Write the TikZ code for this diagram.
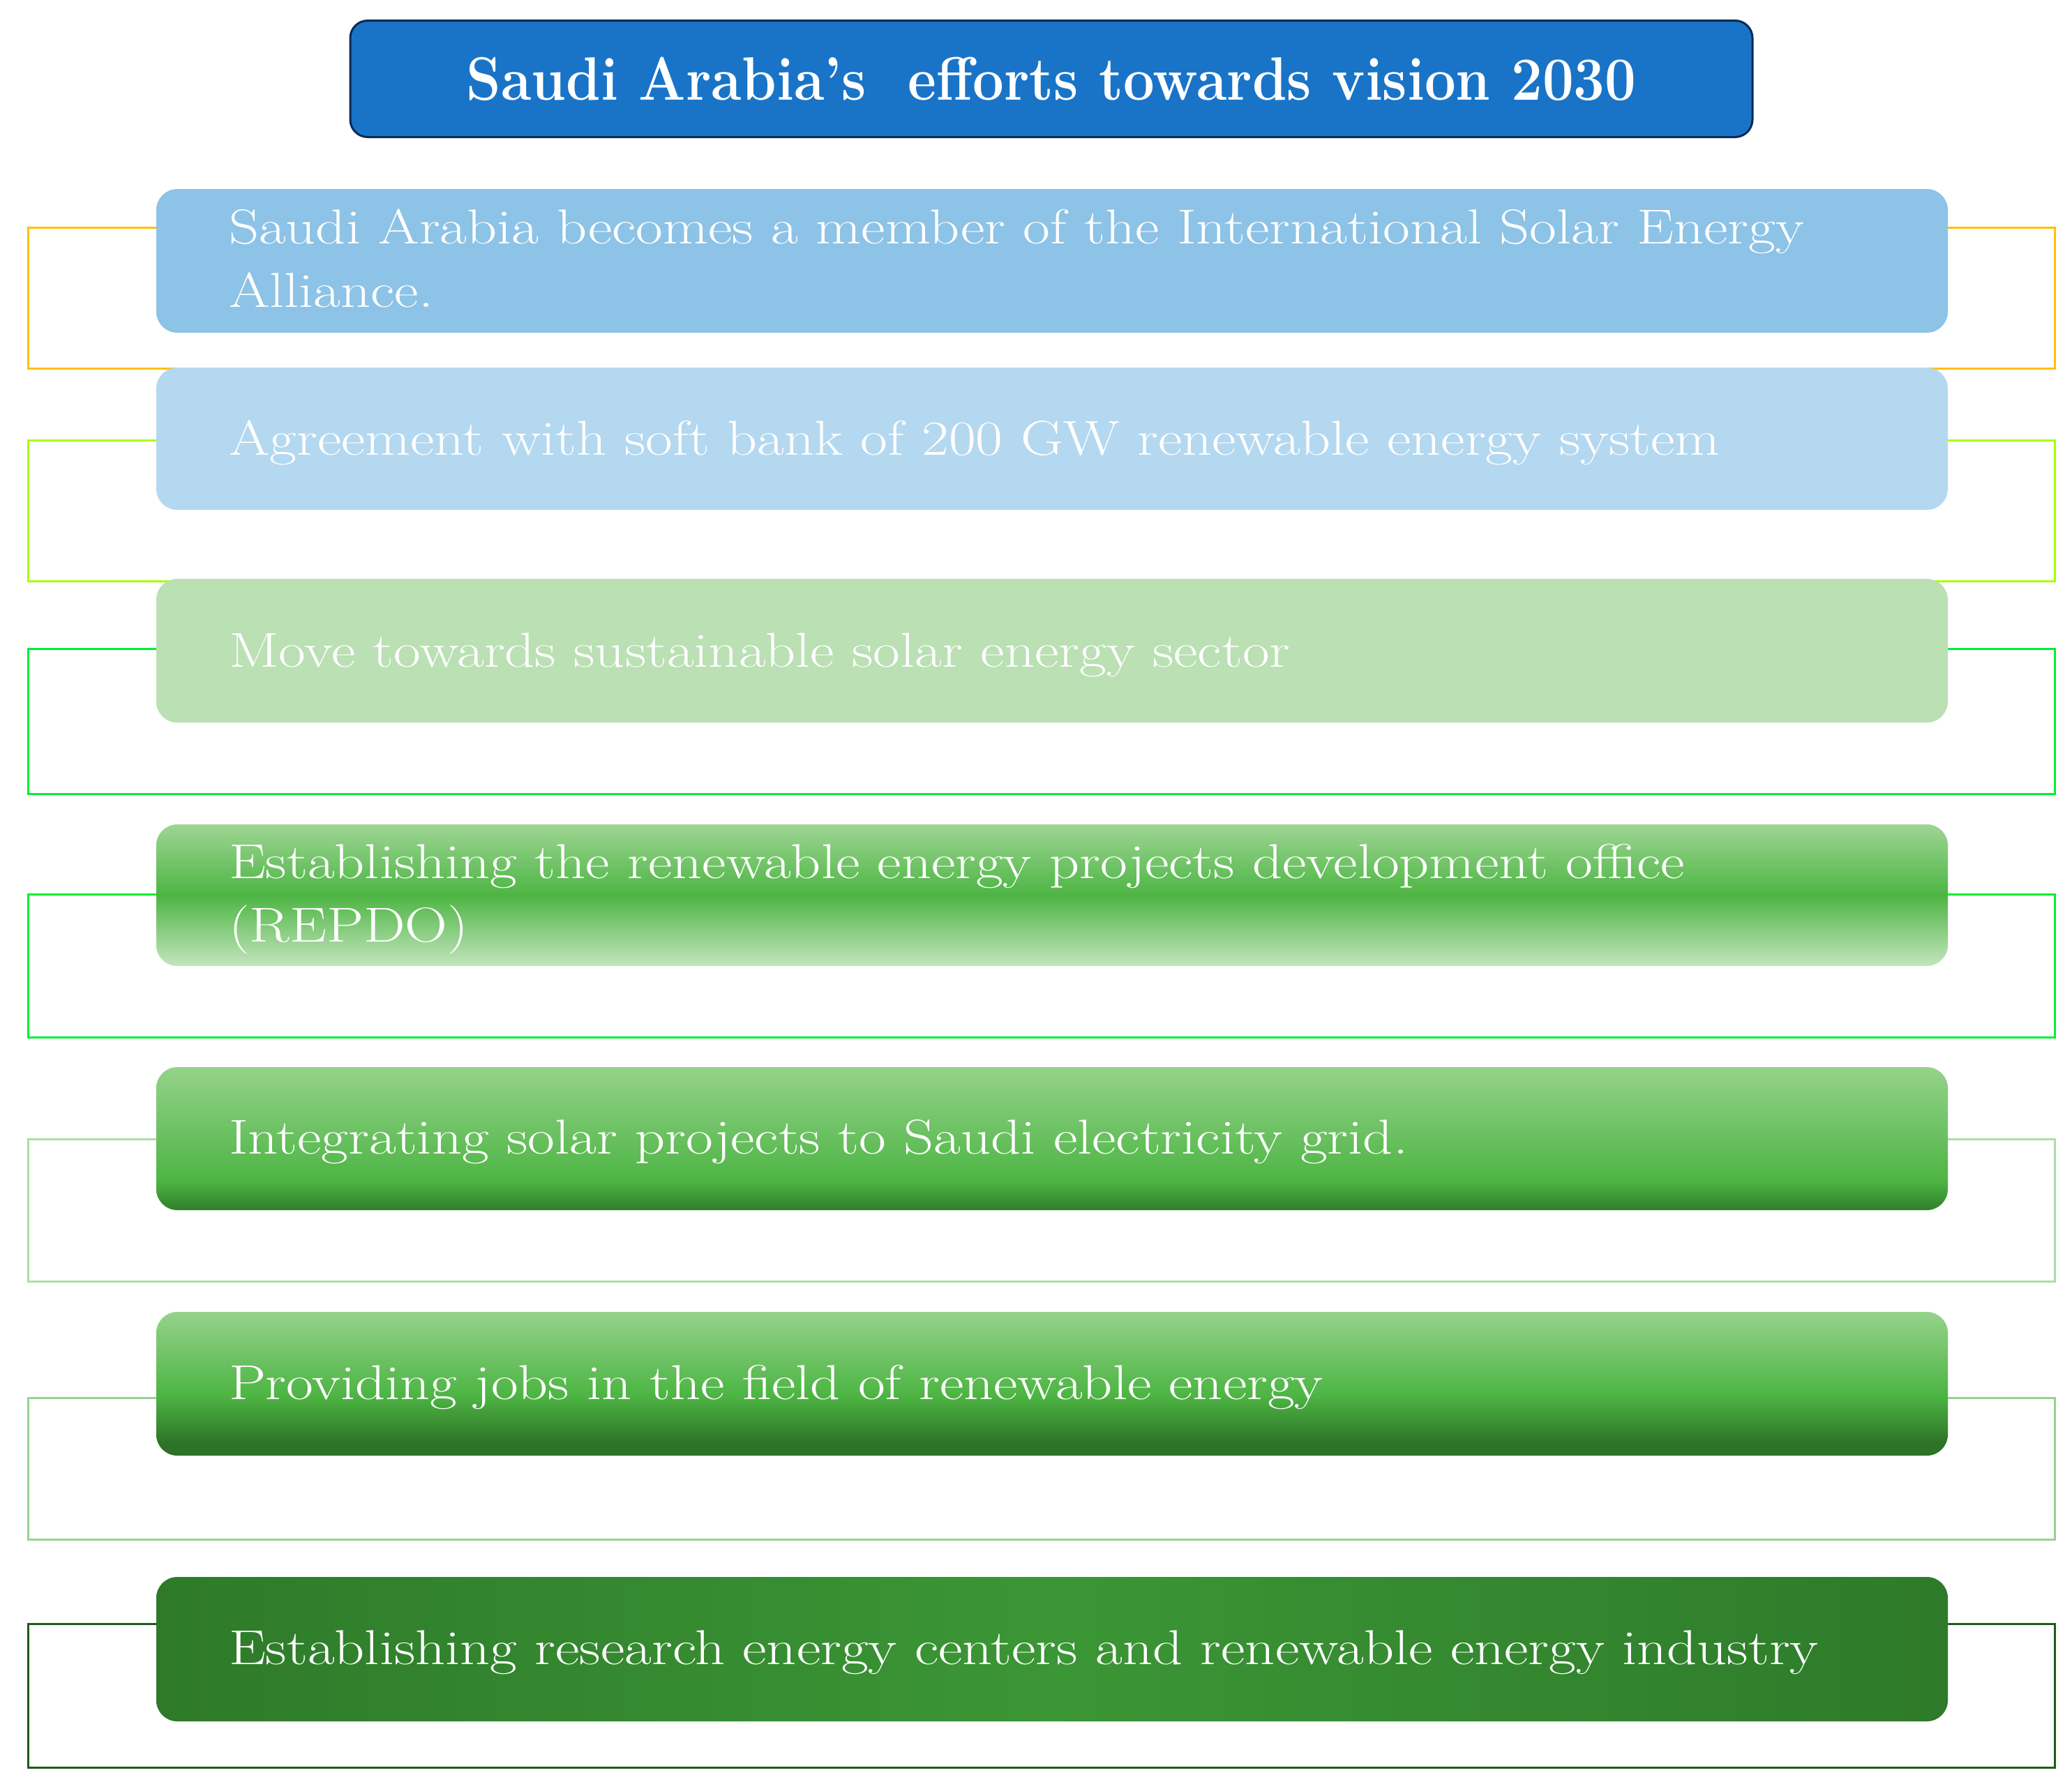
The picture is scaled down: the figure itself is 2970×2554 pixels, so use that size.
\documentclass[tikz,border=0pt]{standalone}
\usepackage{graphicx}
\definecolor{titleblue}{RGB}{25,116,200}
\definecolor{titleedge}{RGB}{12,42,84}
\definecolor{fillA}{RGB}{141,195,230}
\definecolor{fillB}{RGB}{180,216,239}
\definecolor{fillC}{RGB}{186,224,180}
\definecolor{tD}{RGB}{158,213,148}
\definecolor{mD}{RGB}{77,181,67}
\definecolor{bD}{RGB}{196,229,190}
\definecolor{tE}{RGB}{149,210,139}
\definecolor{mE}{RGB}{77,181,67}
\definecolor{dE}{RGB}{46,125,42}
\definecolor{tF}{RGB}{149,210,139}
\definecolor{mF}{RGB}{77,181,67}
\definecolor{dF}{RGB}{45,114,39}
\definecolor{sG}{RGB}{46,122,42}
\definecolor{mG}{RGB}{59,150,53}
\definecolor{kA}{RGB}{255,192,0}
\definecolor{kB}{RGB}{166,255,0}
\definecolor{kC}{RGB}{0,240,50}
\definecolor{kE}{RGB}{172,222,166}
\definecolor{kF}{RGB}{150,210,145}
\definecolor{kG}{RGB}{30,90,30}
\pgfdeclareverticalshading{shadeE}{100bp}{color(0bp)=(dE); color(25bp)=(dE); color(35bp)=(mE); color(75bp)=(tE); color(100bp)=(tE)}
\pgfdeclareverticalshading{shadeF}{100bp}{color(0bp)=(dF); color(29bp)=(dF); color(46bp)=(mF); color(75bp)=(tF); color(100bp)=(tF)}
\newcommand{\boxtext}[1]{\scalebox{1.2}[1]{\begin{tabular}{@{}l@{}}#1\end{tabular}}}
\begin{document}
\begin{tikzpicture}[x=0.1mm,y=-0.1mm,
  bar/.style={rounded corners=3mm, inner sep=0pt, minimum width=256.8mm},
  txt/.style={anchor=west, inner sep=0pt, text=white,
    font=\fontsize{20}{26}\selectfont},
  brk/.style={line width=0.3mm}]
\useasboundingbox[fill=white] (0,0) rectangle (2970,2554);
% brackets
\draw[brk,kA] (40,326) rectangle (2945,528);
\draw[brk,kB] (40,631) rectangle (2945,833);
\draw[brk,kC] (40,930) rectangle (2945,1138);
\draw[brk,kC] (40,1282) rectangle (2945,1487);
\draw[brk,kE] (40,1633) rectangle (2945,1837);
\draw[brk,kF] (40,2004) rectangle (2945,2207);
\draw[brk,kG] (40,2328) rectangle (2945,2534);
% title
\node (title) [fill=titleblue, draw=titleedge, line width=0.3mm, rounded corners=2.5mm,
  minimum width=201mm, minimum height=16.7mm, text=white,
  font=\fontsize{25}{30}\selectfont\bfseries] at (1507,113)
  {\scalebox{0.905}[1]{Saudi Arabia’s~ efforts towards vision 2030}};
% boxes
\node (b1) [bar, fill=fillA, minimum height=20.6mm] at (1508,374) {};
\node (b2) [bar, fill=fillB, minimum height=20.4mm] at (1508,629) {};
\node (b3) [bar, fill=fillC, minimum height=20.6mm] at (1508,933) {};
\node (b4) [bar, top color=tD, bottom color=bD, middle color=mD, minimum height=20.3mm] at (1508,1283.5) {};
\node (b5) [bar, shading=shadeE, minimum height=20.5mm] at (1508,1632.5) {};
\node (b6) [bar, shading=shadeF, minimum height=20.6mm] at (1508,1984) {};
\node (b7) [bar, left color=sG, right color=sG, middle color=mG, minimum height=20.7mm] at (1508,2364.5) {};
% texts
\node (t1) [txt] at ([xshift=10.4mm,yshift=-0.3mm]b1.west)
  {\boxtext{Saudi Arabia becomes a member of the International Solar Energy\\Alliance.}};
\node (t2) [txt] at ([xshift=10.4mm,yshift=-0.5mm]b2.west)
  {\boxtext{Agreement with soft bank of 200 GW renewable energy system}};
\node (t3) [txt] at ([xshift=10.4mm,yshift=-0.5mm]b3.west)
  {\boxtext{Move towards sustainable solar energy sector}};
\node (t4) [txt] at ([xshift=10.4mm,yshift=-0.3mm]b4.west)
  {\boxtext{Establishing the renewable energy projects development office\\(REPDO)}};
\node (t5) [txt] at ([xshift=10.4mm,yshift=-0.4mm]b5.west)
  {\boxtext{Integrating solar projects to Saudi electricity grid.}};
\node (t6) [txt] at ([xshift=10.4mm,yshift=-0.4mm]b6.west)
  {\boxtext{Providing jobs in the field of renewable energy}};
\node (t7) [txt] at ([xshift=10.4mm,yshift=-0.4mm]b7.west)
  {\boxtext{Establishing research energy centers and renewable energy industry}};
\end{tikzpicture}
\end{document}
